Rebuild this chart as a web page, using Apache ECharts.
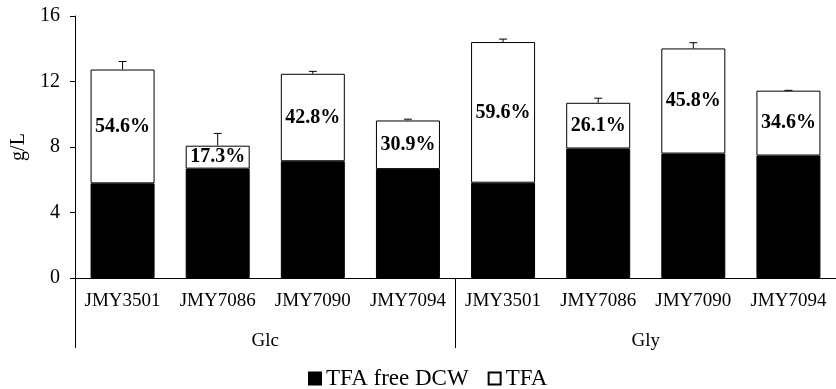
<!DOCTYPE html>
<html>
<head>
<meta charset="utf-8">
<script src="https://cdn.jsdelivr.net/npm/echarts@6/dist/echarts.min.js"></script>
<style>
  html, body { margin: 0; padding: 0; background: #fff; }
  #chart { width: 836px; height: 389px; }
</style>
</head>
<body>
<div id="chart"></div>
<script>
// Strains grown on each carbon source
const strains = ['JMY3501', 'JMY7086', 'JMY7090', 'JMY7094',
                 'JMY3501', 'JMY7086', 'JMY7090', 'JMY7094'];
const carbonSources = ['Glc', 'Gly'];

// TFA-free dry cell weight (g/L)
const dcwFree = [5.78, 6.68, 7.13, 6.65, 5.82, 7.91, 7.60, 7.48];
// Total fatty acids (g/L)
const tfa = [6.95, 1.40, 5.34, 2.97, 8.59, 2.79, 6.42, 3.96];
// Standard deviation of total DCW (g/L)
const errTotal = [0.49, 0.75, 0.15, 0.08, 0.18, 0.28, 0.35, 0.02];

const yTicks = { min: 0, max: 16, interval: 4 };

const FONT = '"Liberation Serif", "Times New Roman", serif';

const totals = dcwFree.map((v, i) => v + tfa[i]);
const pctLabel = i => (tfa[i] / totals[i] * 100).toFixed(1) + '%';

const chart = echarts.init(document.getElementById('chart'), null, { renderer: 'canvas' });

chart.setOption({
  animation: false,
  backgroundColor: '#fff',
  textStyle: { fontFamily: FONT, color: '#000' },
  grid: { left: 75, right: -11, top: 16, bottom: 111, containLabel: false },
  legend: {
    data: ['TFA free DCW', 'TFA'],
    left: 303,
    top: 362,
    icon: 'rect',
    itemWidth: 12,
    itemHeight: 12,
    itemGap: 19,
    textStyle: { fontFamily: FONT, fontSize: 23, color: '#000' }
  },
  xAxis: [
    {
      type: 'category',
      data: strains,
      position: 'bottom',
      axisLine: { show: true, lineStyle: { color: '#000', width: 1 } },
      axisTick: { show: false },
      axisLabel: { margin: 14, fontFamily: FONT, fontSize: 19, color: '#000', interval: 0 },
      splitLine: { show: false }
    },
    {
      type: 'category',
      data: carbonSources,
      position: 'bottom',
      axisLine: { show: false },
      axisTick: { show: true, length: 70, inside: false, lineStyle: { color: '#000', width: 1 } },
      axisLabel: { margin: 54, fontFamily: FONT, fontSize: 19, color: '#000', interval: 0 },
      splitLine: { show: false }
    }
  ],
  yAxis: {
    type: 'value',
    min: yTicks.min,
    max: yTicks.max,
    interval: yTicks.interval,
    name: 'g/L',
    nameLocation: 'middle',
    nameGap: 46,
    nameRotate: 90,
    nameTextStyle: { fontFamily: FONT, fontSize: 20, color: '#000' },
    axisLine: { show: true, lineStyle: { color: '#000', width: 1 } },
    axisTick: { show: true, length: 5, inside: false, lineStyle: { color: '#000' } },
    axisLabel: { margin: 15, fontFamily: FONT, fontSize: 20, color: '#000' },
    splitLine: { show: false }
  },
  series: [
    {
      name: 'TFA free DCW',
      type: 'bar',
      stack: 'dcw',
      xAxisIndex: 0,
      barWidth: 64,
      data: dcwFree,
      itemStyle: { color: '#000', borderColor: '#000', borderWidth: 1 }
    },
    {
      name: 'TFA',
      type: 'bar',
      stack: 'dcw',
      xAxisIndex: 0,
      barWidth: 64,
      data: tfa,
      itemStyle: { color: '#fff', borderColor: '#000', borderWidth: 1 },
      label: {
        show: true,
        position: 'inside',
        formatter: p => pctLabel(p.dataIndex),
        fontFamily: FONT,
        fontSize: 20,
        fontWeight: 'bold',
        color: '#000'
      }
    },
    {
      name: 'error',
      type: 'custom',
      xAxisIndex: 0,
      z: 5,
      data: totals.map((t, i) => [i, t, errTotal[i]]),
      encode: { x: 0, y: 1 },
      renderItem: (params, api) => {
        const idx = api.value(0);
        const top = api.value(1);
        const e = api.value(2);
        const p0 = api.coord([idx, top]);
        const p1 = api.coord([idx, top + e]);
        const cap = 4;
        return {
          type: 'group',
          children: [
            { type: 'line', shape: { x1: p0[0], y1: p0[1], x2: p1[0], y2: p1[1] },
              style: { stroke: '#000', lineWidth: 1 } },
            { type: 'line', shape: { x1: p1[0] - cap, y1: p1[1], x2: p1[0] + cap, y2: p1[1] },
              style: { stroke: '#000', lineWidth: 1 } }
          ]
        };
      }
    }
  ]
});
</script>
</body>
</html>
